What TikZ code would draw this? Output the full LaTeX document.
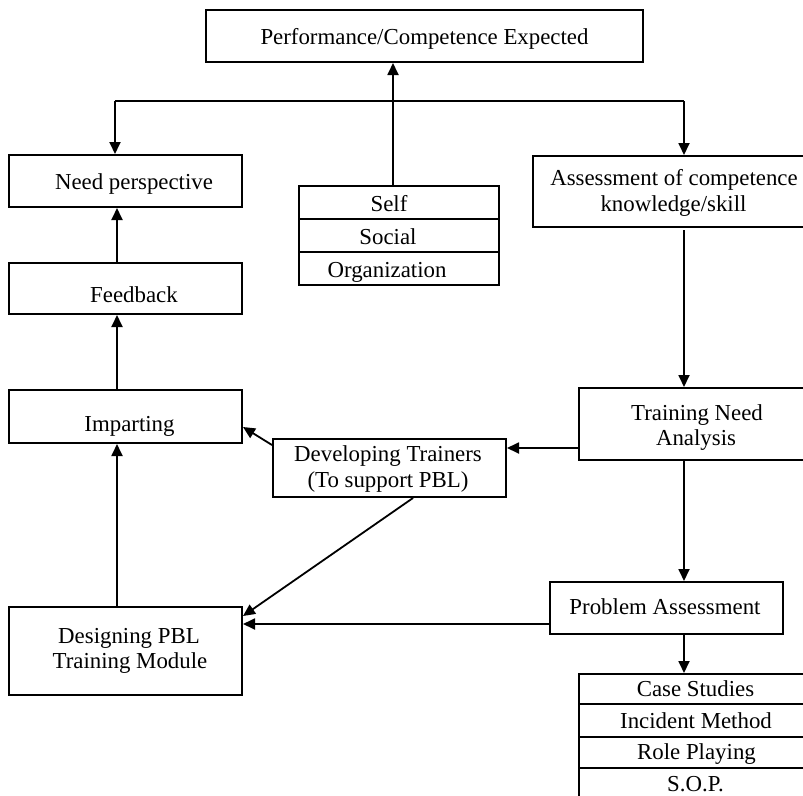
\documentclass[tikz,border=0pt]{standalone}
\usepackage{fontspec}
\setmainfont{Liberation Serif}
\usetikzlibrary{arrows.meta}
\begin{document}
\begin{tikzpicture}[x=1pt,y=-1pt,
  box/.style={draw, line width=2pt, inner sep=0pt, rectangle},
  txt/.style={anchor=base, inner sep=0pt, font=\fontsize{22.85}{26}\selectfont},
  arr/.style={line width=1.8pt, -{Triangle[length=12pt,width=11pt]}},
  ln/.style={line width=1.8pt}]
\useasboundingbox (0,0) rectangle (803,795);
\clip (0,0) rectangle (803,795);
% boxes
\node[box, minimum width=437pt, minimum height=52pt] (top) at (424.5,36) {};
\node[box, minimum width=233pt, minimum height=52pt] (need) at (125.5,181) {};
\node[box, minimum width=233pt, minimum height=51pt] (feed) at (125.5,288.5) {};
\node[box, minimum width=233pt, minimum height=53pt] (impart) at (125.5,416.5) {};
\node[box, minimum width=233pt, minimum height=88pt] (design) at (125.5,651) {};
\node[box, minimum width=200pt, minimum height=33pt] (self) at (399,202.5) {};
\node[box, minimum width=200pt, minimum height=33pt] (social) at (399,235.5) {};
\node[box, minimum width=200pt, minimum height=33pt] (org) at (399,268.5) {};
\node[box, minimum width=282pt, minimum height=71pt] (assess) at (674,191.5) {};
\node[box, minimum width=236pt, minimum height=72pt] (tna) at (697,424) {};
\node[box, minimum width=233pt, minimum height=58pt] (dev) at (389.5,468) {};
\node[box, minimum width=233pt, minimum height=52pt] (pa) at (666.5,608) {};
\node[box, minimum width=234pt, minimum height=30pt] (case) at (696,689) {};
\node[box, minimum width=234pt, minimum height=33pt] (incident) at (696,720.5) {};
\node[box, minimum width=234pt, minimum height=31pt] (role) at (696,752.5) {};
\node[box, minimum width=234pt, minimum height=32pt] (sop) at (696,784) {};
% texts
\node[txt] (ttop) at (424.5,44) {Performance/Competence Expected};
\node[txt] (tneed) at (134,189) {Need perspective};
\node[txt] (tfeed) at (134,302) {Feedback};
\node[txt] (timp) at (129.5,431) {Imparting};
\node[txt] (tdes1) at (129,643) {Designing PBL};
\node[txt] (tdes2) at (130,668) {Training Module};
\node[txt] (tself) at (389,211) {Self};
\node[txt] (tsoc) at (388,244) {Social};
\node[txt] (torg) at (387,277) {Organization};
\node[txt] (tas1) at (674,185) {Assessment of competence};
\node[txt] (tas2) at (673.5,211) {knowledge/skill};
\node[txt] (ttna1) at (697,420) {Training Need};
\node[txt] (ttna2) at (696,445) {Analysis};
\node[txt] (tdev1) at (388,461) {Developing Trainers};
\node[txt] (tdev2) at (388,487) {(To support PBL)};
\node[txt] (tpa) at (665,614) {Problem Assessment};
\node[txt] (tcase) at (695.5,696) {Case Studies};
\node[txt] (tinc) at (696,728) {Incident Method};
\node[txt] (trole) at (696.5,759) {Role Playing};
\node[txt] (tsop) at (695.5,791) {S.O.P.};
% helper coordinates
\coordinate (cx) at (393,101);
\coordinate (lx) at (115,101);
\coordinate (rx) at (684,101);
\coordinate (lc) at (117,0);
\coordinate (ty) at (0,448);
\coordinate (d0) at (0,445);
\coordinate (d1) at (0,427);
\coordinate (p1) at (413,0);
\coordinate (p2) at (0,616);
\coordinate (p3) at (0,624);
% connectors
\draw[arr] (cx |- self.north) -- (cx |- top.south);
\draw[ln] (lx) -- (rx);
\draw[arr] (lx) -- (lx |- need.north);
\draw[arr] (rx) -- (rx |- assess.north);
\draw[arr] (lc |- feed.north) -- (lc |- need.south);
\draw[arr] (lc |- impart.north) -- (lc |- feed.south);
\draw[arr] (lc |- design.north) -- (lc |- impart.south);
\draw[arr] ([yshift=-2pt]rx |- assess.south) -- (rx |- tna.north);
\draw[arr] (ty -| tna.west) -- (ty -| dev.east);
\draw[arr] (dev.west |- d0) -- (impart.east |- d1);
\draw[arr] (p1 |- dev.south) -- (design.east |- p2);
\draw[arr] (rx |- tna.south) -- (rx |- pa.north);
\draw[arr] (pa.west |- p3) -- (design.east |- p3);
\draw[arr] (rx |- pa.south) -- (rx |- case.north);
\end{tikzpicture}
\end{document}
